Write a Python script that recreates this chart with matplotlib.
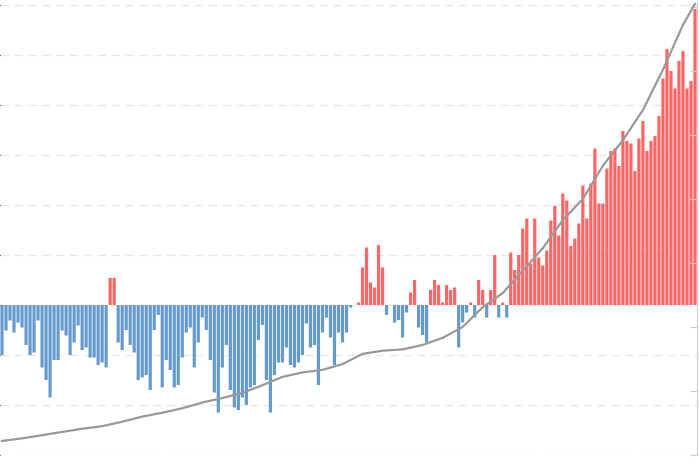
import matplotlib
matplotlib.use("Agg")
import matplotlib.pyplot as plt

# bar values (left axis), one per period
bar_values = [
    -10, -5.1, -3.1, -5.5, -3.5, -4.5, -8, -10, -9.5, -3.1,
    -12.5, -15, -18.5, -11, -11, -5.1, -6.1, -10, -7.5, -4.1,
    -9, -8.5, -10.5, -10.5, -12, -11.5, -12.5, 5.4, 5.4, -7.5,
    -9, -5, -8, -9.5, -15, -14.5, -14, -17, -5, -2,
    -16.5, -11, -13, -16.5, -16, -10.5, -5.5, -4.5, -12.5, -7.5,
    -2.5, -5, -11, -17.5, -21.5, -12.5, -8, -17, -20.5, -21,
    -18.5, -20, -16.5, -16, -7, -4, -15, -21.5, -14, -11.5,
    -11.5, -8.5, -12, -12.5, -11.5, -10, -3.7, -8.5, -8, -16,
    -5.5, -2.5, -6.5, -12, -5.5, -7.5, -5.5, -0.5, 0, 0.5,
    7.5, 11.5, 4.5, 3.5, 12, 7.5, -2, 0, -3.5, -3,
    -6.5, -1.5, 2.5, 5, -4.5, -6, -7.5, 3, 5, 4,
    0.5, 4, 3, 3.5, -8.5, -3.5, -1.5, 0.5, -2.5, 5,
    3, -2.5, 3, 10, -2.5, 0.5, -2.5, 10.5, 7, 10,
    15.3, 17.3, 8.3, 17.3, 9.5, 7.9, 10.9, 16.9, 19.8, 13.9,
    22.3, 20.9, 11.8, 13.3, 16.3, 23.9, 17.3, 24.3, 31.3, 20.3,
    20.3, 27.3, 30.8, 31.3, 27.8, 34.8, 32.8, 32.3, 26.8, 33.3,
    36.8, 30.8, 32.8, 33.8, 37.8, 45.3, 51.2, 46.8, 43.3, 48.8,
    50.8, 43.3, 44.8, 59.2,
]

# line values (right axis), read every 5th period
line_idx = list(range(0, 174, 5)) + [173]
line_values = [
    0.22, 0.26, 0.31, 0.36, 0.41, 0.45, 0.52, 0.60, 0.66, 0.73,
    0.82, 0.89, 0.97, 1.09, 1.22, 1.29, 1.33, 1.42, 1.58, 1.63,
    1.65, 1.72, 1.83, 2.00, 2.31, 2.53, 2.88, 3.23, 3.67, 4.00,
    4.52, 4.92, 5.39, 6.02, 6.72, 7.05,
]

left_ticks = [-30, -20, -10, 0, 10, 20, 30, 40, 50, 60]
right_ticks = [0, 1, 2, 3, 4, 5, 6, 7]

fig = plt.figure(figsize=(7, 4.68), dpi=100)
ax = fig.add_axes([0, 13 / 468, 697 / 700, 452 / 468])

x = range(len(bar_values))
colors = ['#ff6666' if v > 0 else '#6699cc' for v in bar_values]
ax.bar(x, bar_values, width=0.8, color=colors, linewidth=0, snap=False)

ax.set_xlim(-0.5, len(bar_values) - 0.5)
ax.set_ylim(-30, 60.4)
ax.set_yticks(left_ticks)
ax.yaxis.grid(True, color='#e8e8e8', linestyle=(0, (6, 4)), linewidth=1)
ax.set_axisbelow(True)
ax.tick_params(left=False, bottom=False, labelleft=False, labelbottom=False)
for s in ax.spines.values():
    s.set_visible(False)

ax2 = ax.twinx()
ax2.plot(line_idx, line_values, color='#999999', linewidth=1.6, clip_on=False)
ax2.set_ylim(0, 452 / 64)
ax2.set_yticks(right_ticks)
ax2.tick_params(axis='y', direction='in', length=5, color='#cccccc',
                labelright=False, right=True)
for name, s in ax2.spines.items():
    s.set_visible(name == 'right')
ax2.spines['right'].set_color('#cccccc')

fig.savefig('out.png', dpi=100)
